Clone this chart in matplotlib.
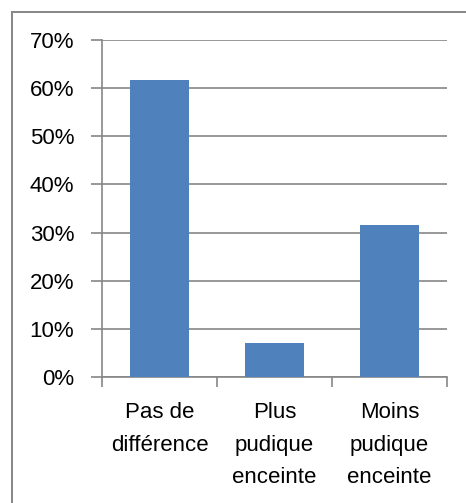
import matplotlib
matplotlib.use("Agg")
import matplotlib.pyplot as plt
from matplotlib.patches import Rectangle
from matplotlib.ticker import FuncFormatter, FixedLocator
import numpy as np

categories = ["Pas de\ndifférence", "Plus\npudique\nenceinte", "Moins\npudique\nenceinte"]
values = [61.7, 7.0, 31.5]
yticks = [0, 10, 20, 30, 40, 50, 60, 70]

BAR = "#4f81bd"
GRID = "#868686"

plt.rcParams["font.family"] = ["Liberation Sans", "DejaVu Sans"]

fig = plt.figure(figsize=(4.66, 5.03), dpi=100)
W, H = 466, 503
ax = fig.add_axes([102 / W, 1 - 377 / H, 345 / W, 337 / H])

# chart area border (only top and left visible in the crop)
fig.patches.append(Rectangle((12 / W, -0.1), 1.2, (H - 12) / H + 0.1,
                             transform=fig.transFigure, fill=False,
                             edgecolor=GRID, linewidth=1.4))

x = np.arange(len(categories))
ax.bar(x, values, width=0.52, color=BAR, zorder=3)

ax.set_xlim(-0.5, len(categories) - 0.5)
ax.set_ylim(0, 70)
ax.set_yticks(yticks)
ax.yaxis.set_major_formatter(FuncFormatter(lambda v, p: f"{v:.0f}%"))
ax.grid(axis="y", color=GRID, linewidth=1.2, zorder=0)

ax.set_xticks(x)
ax.set_xticklabels(categories, fontsize=16, linespacing=1.72)
ax.xaxis.set_minor_locator(FixedLocator(np.arange(-0.5, len(categories), 1.0)))
ax.tick_params(axis="x", which="major", length=0, pad=18)
ax.tick_params(axis="x", which="minor", length=7, width=1.2, color=GRID)
ax.tick_params(axis="y", length=8, width=1.2, color=GRID, labelsize=16, pad=12)

for side in ("top", "right"):
    ax.spines[side].set_visible(False)
for side in ("left", "bottom"):
    ax.spines[side].set_color(GRID)
    ax.spines[side].set_linewidth(1.2)

fig.savefig("out.png", dpi=100, facecolor="white")
